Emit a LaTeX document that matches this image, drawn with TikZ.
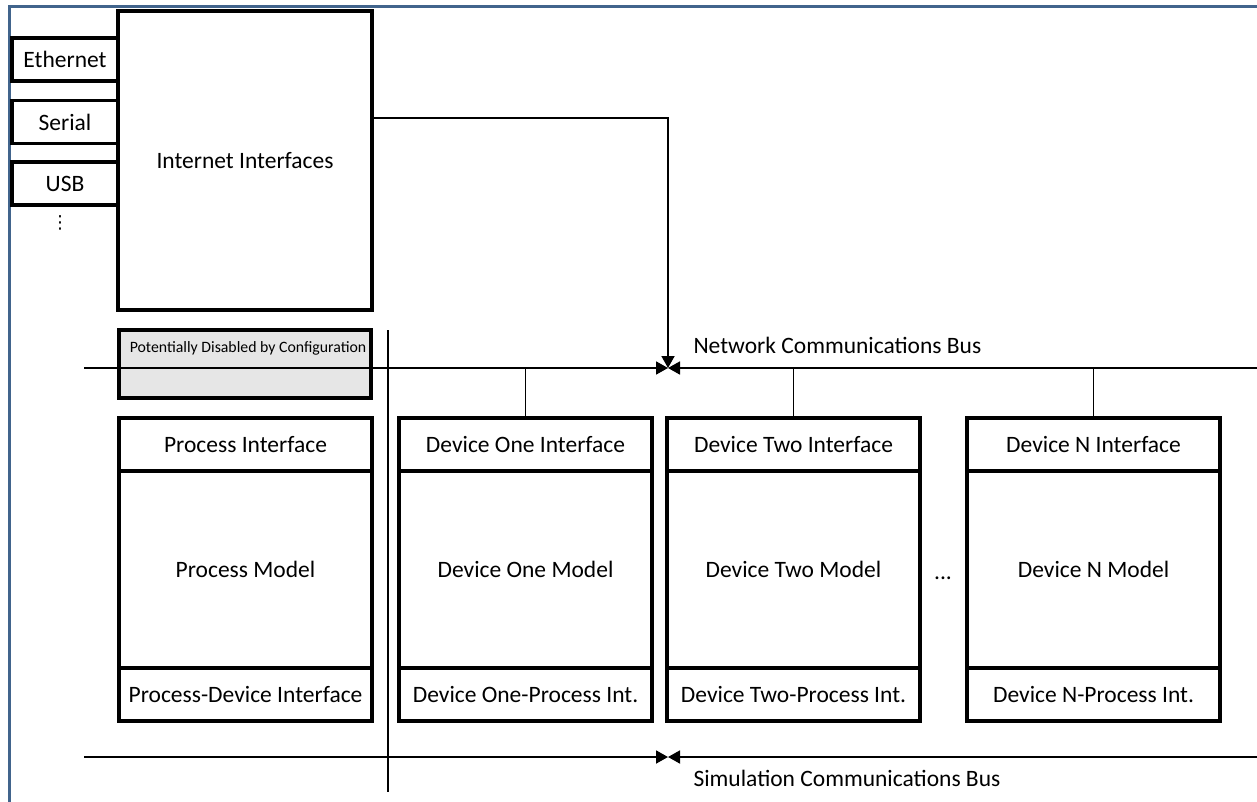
\documentclass[tikz,border=0pt]{standalone}
\usepackage{fontspec}
\setmainfont{Carlito}
\newfontfamily\dejavu{DejaVu Sans}
\usetikzlibrary{arrows.meta,calc}
\definecolor{framecol}{RGB}{65,100,140}
\definecolor{greyfill}{RGB}{230,230,230}
\begin{document}
\begin{tikzpicture}[x=1pt,y=-1pt,
  box/.style={draw, line width=3.2pt, inner sep=0pt, minimum width=253pt, font=\fontsize{23.5}{26}\selectfont},
  ifbox/.style={box, minimum width=106pt, minimum height=43pt},
  hdr/.style={box, minimum height=53pt},
  body/.style={box, minimum height=197pt},
  conn/.style={line width=1.8pt},
  tip/.style={-{Triangle[length=12pt,width=13pt]}},
  lbl/.style={font=\fontsize{23.5}{26}\selectfont},
  small/.style={font=\fontsize{15.8}{18}\selectfont}]
\useasboundingbox (0,0) rectangle (1257,802);
\draw[framecol, line width=3pt] (9,802) -- (9,7) -- (1257,7);

% internet interfaces
\node[box, minimum width=254pt, minimum height=299pt] (ii) at (245,160.5) {Internet Interfaces};
\node[ifbox] (eth) at (65,59.5) {Ethernet};
\node[ifbox] (ser) at (65,122) {Serial};
\node[ifbox] (usb) at (65,183.5) {USB};
\node[font=\dejavu\fontsize{18}{20}\selectfont] (vdots) at (60,223) {⋮};

% buses
\coordinate (nbL) at (84,368);
\coordinate (nbR) at (1257,368);
\coordinate (nbM) at (668,368);
\coordinate (sbL) at (84,757);
\coordinate (sbR) at (1257,757);
\coordinate (sbM) at (668,757);
\coordinate (turn) at (668,118);
\coordinate (sepT) at (388,330);
\coordinate (sepB) at (388,792);

% grey box
\node[box, fill=greyfill, minimum width=252pt, minimum height=68pt] (grey) at (245,364) {};
\node[small] (greytxt) at (248,348) {Potentially Disabled by Configuration};

% process column
\node[hdr] (ph) at (245.5,444.5) {Process Interface};
\node[body] (pb) at (245.5,569.5) {Process Model};
\node[hdr] (pf) at (245.5,694.5) {Process-Device Interface};

% device one
\node[hdr] (d1h) at (525.5,444.5) {Device One Interface};
\node[body] (d1b) at (525.5,569.5) {Device One Model};
\node[hdr] (d1f) at (525.5,694.5) {Device One-Process Int.};

% device two
\node[hdr] (d2h) at (793.5,444.5) {Device Two Interface};
\node[body] (d2b) at (793.5,569.5) {Device Two Model};
\node[hdr] (d2f) at (793.5,694.5) {Device Two-Process Int.};

% device N
\node[hdr] (dnh) at (1093.5,444.5) {Device N Interface};
\node[body] (dnb) at (1093.5,569.5) {Device N Model};
\node[hdr] (dnf) at (1093.5,694.5) {Device N-Process Int.};

\node[lbl] (ell) at (943,578) {...};

% bus lines
\draw[conn, tip] (nbL) -- (nbM);
\draw[conn, tip] (nbR) -- (nbM);
\draw[conn, tip] (sbL) -- (sbM);
\draw[conn, tip] (sbR) -- (sbM);
\draw[conn, tip] (ii.east |- turn) -- (turn) -- (nbM);
\draw[conn] (sepT) -- (sepB);

\node[lbl, anchor=west] (nbl) at (690,345) {Network Communications Bus};
\node[lbl, anchor=west] (sbl) at (690,778) {Simulation Communications Bus};

% drops from network bus
\draw[conn] ($(ph.north)+(15.5,0)$) -- ($(ph.north)+(15.5,0)$ |- nbM);
\draw[conn] (d1h.north) -- (d1h.north |- nbM);
\draw[conn] (d2h.north) -- (d2h.north |- nbM);
\draw[conn] (dnh.north) -- (dnh.north |- nbM);

% drops to simulation bus
\draw[conn] ($(pf.south)+(15.5,0)$) -- ($(pf.south)+(15.5,0)$ |- sbM);
\draw[conn] ($(d1f.south)+(2.5,0)$) -- ($(d1f.south)+(2.5,0)$ |- sbM);
\draw[conn] ($(d2f.south)+(1.5,0)$) -- ($(d2f.south)+(1.5,0)$ |- sbM);
\draw[conn] ($(dnf.south)+(3.5,0)$) -- ($(dnf.south)+(3.5,0)$ |- sbM);
\end{tikzpicture}
\end{document}
